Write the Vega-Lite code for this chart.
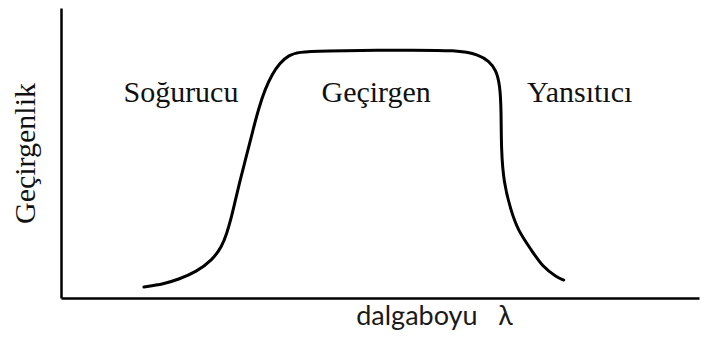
{
  "$schema": "https://vega.github.io/schema/vega-lite/v6.json",
  "width": 638,
  "height": 290,
  "autosize": {"type": "none"},
  "padding": {"left": 61, "top": 8, "right": 3, "bottom": 40},
  "background": "white",
  "config": {"view": {"stroke": null}},
  "datasets": {
    "curve": [
      {"lambda": 13.0, "T": 3.8},
      {"lambda": 16.1, "T": 4.8},
      {"lambda": 18.5, "T": 6.5},
      {"lambda": 21.2, "T": 9.0},
      {"lambda": 23.7, "T": 13.1},
      {"lambda": 25.2, "T": 17.6},
      {"lambda": 26.0, "T": 22.4},
      {"lambda": 26.6, "T": 26.9},
      {"lambda": 27.2, "T": 32.5},
      {"lambda": 27.9, "T": 39.0},
      {"lambda": 29.0, "T": 48.5},
      {"lambda": 30.1, "T": 58.0},
      {"lambda": 31.0, "T": 65.5},
      {"lambda": 32.0, "T": 72.1},
      {"lambda": 33.1, "T": 77.2},
      {"lambda": 34.3, "T": 81.0},
      {"lambda": 35.7, "T": 83.8},
      {"lambda": 37.3, "T": 84.8},
      {"lambda": 40.4, "T": 85.2},
      {"lambda": 53.0, "T": 85.5},
      {"lambda": 62.4, "T": 85.5},
      {"lambda": 65.5, "T": 83.8},
      {"lambda": 67.1, "T": 81.7},
      {"lambda": 68.2, "T": 78.6},
      {"lambda": 68.8, "T": 73.4},
      {"lambda": 69.0, "T": 65.0},
      {"lambda": 69.0, "T": 51.0},
      {"lambda": 69.4, "T": 39.7},
      {"lambda": 70.5, "T": 30.3},
      {"lambda": 71.6, "T": 23.4},
      {"lambda": 73.7, "T": 16.6},
      {"lambda": 75.5, "T": 10.7},
      {"lambda": 77.7, "T": 7.2},
      {"lambda": 78.8, "T": 6.2}
    ],
    "regions": [
      {"lambda": 18.8, "T": 70.7, "label": "Soğurucu"},
      {"lambda": 49.4, "T": 70.7, "label": "Geçirgen"},
      {"lambda": 81.3, "T": 70.7, "label": "Yansıtıcı"}
    ]
  },
  "layer": [
    {
      "data": {"name": "curve"},
      "mark": {"type": "line", "color": "black", "strokeWidth": 3, "interpolate": "basis", "strokeCap": "round", "strokeJoin": "round"},
      "encoding": {
        "x": {
          "field": "lambda", "type": "quantitative",
          "scale": {"domain": [0, 100], "nice": false, "zero": false},
          "axis": {
            "title": "dalgaboyu\u00a0\u00a0\u00a0λ",
            "titleFont": "Lato", "titleFontSize": 27, "titleFontWeight": "normal", "titleColor": "#1a1a1a",
            "titleX": 373, "titleAlign": "center", "titlePadding": 5,
            "labels": false, "ticks": false, "grid": false,
            "domainColor": "black", "domainWidth": 2.5
          }
        },
        "y": {
          "field": "T", "type": "quantitative",
          "scale": {"domain": [0, 100], "nice": false},
          "axis": {
            "title": "Geçirgenlik",
            "titleFont": "Liberation Serif", "titleFontSize": 30, "titleFontWeight": "normal", "titleColor": "#111",
            "titlePadding": 21,
            "labels": false, "ticks": false, "grid": false,
            "domainColor": "black", "domainWidth": 2.5
          }
        }
      }
    },
    {
      "data": {"name": "regions"},
      "mark": {"type": "text", "font": "Liberation Serif", "fontSize": 30, "color": "#111", "align": "center", "baseline": "middle"},
      "encoding": {
        "x": {"field": "lambda", "type": "quantitative"},
        "y": {"field": "T", "type": "quantitative"},
        "text": {"field": "label"}
      }
    }
  ]
}
